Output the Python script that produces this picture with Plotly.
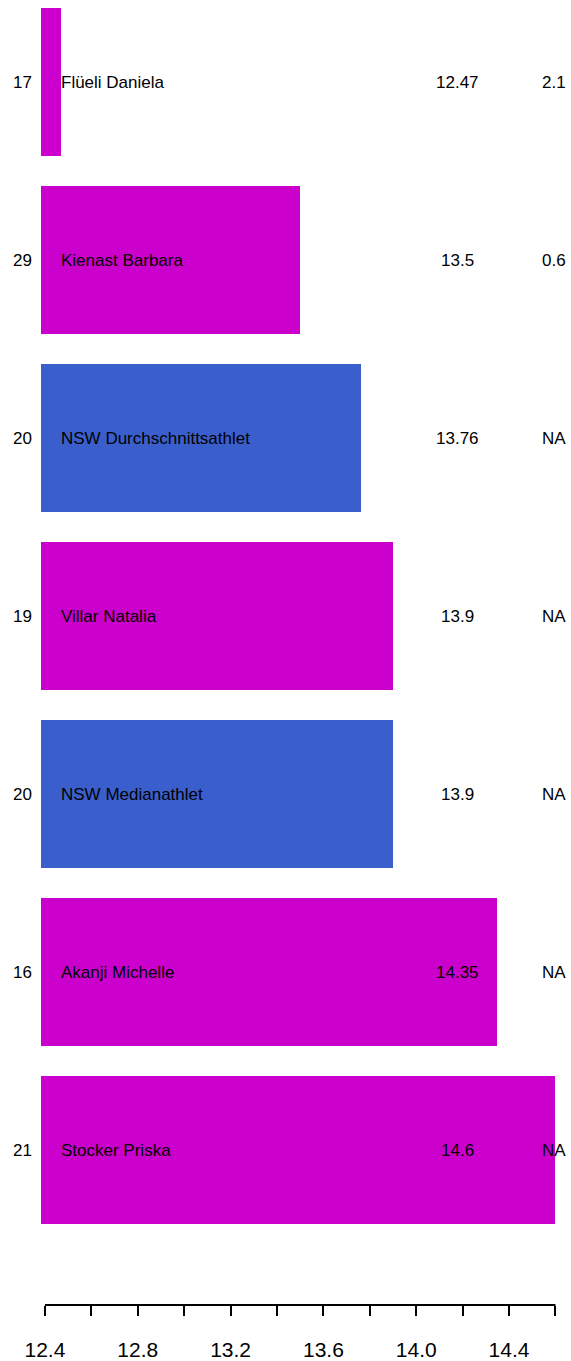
import plotly.graph_objects as go

# Data (bottom to top)
names = ["Stocker Priska", "Akanji Michelle", "NSW Medianathlet", "Villar Natalia",
         "NSW Durchschnittsathlet", "Kienast Barbara", "Flüeli Daniela"]
values = [14.6, 14.35, 13.9, 13.9, 13.76, 13.5, 12.47]
ages = ["21", "16", "20", "19", "20", "29", "17"]
extra = ["NA", "NA", "NA", "NA", "NA", "0.6", "2.1"]
is_nsw = [False, False, True, False, True, False, False]
x_ticks = [12.4, 12.6, 12.8, 13.0, 13.2, 13.4, 13.6, 13.8, 14.0, 14.2, 14.4, 14.6]
x_ticktext = ["12.4", "", "12.8", "", "13.2", "", "13.6", "", "14.0", "", "14.4", ""]

MAGENTA = "#CC00CC"
BLUE = "#3A5FCD"
FONT = "Liberation Sans, Arial, sans-serif"

W, H = 571, 1361
ypos = list(range(len(names)))
colors = [BLUE if n else MAGENTA for n in is_nsw]

fig = go.Figure()
fig.add_trace(go.Bar(
    x=values, y=ypos, orientation="h", width=0.8315,
    marker=dict(color=colors, line=dict(width=0)),
    hoverinfo="skip", showlegend=False,
))

x_min_data = min(values)
x_max_data = max(values)
value_col_x = 14.176
for i, (n, v, e) in enumerate(zip(names, values, extra)):
    fig.add_annotation(x=x_min_data, y=i, text=n, showarrow=False, xanchor="left",
                       xshift=-2, yanchor="middle",
                       font=dict(size=17, color="black", family=FONT))
    fig.add_annotation(x=value_col_x, y=i, text=str(v), showarrow=False, xanchor="center",
                       yanchor="middle", font=dict(size=17, color="black", family=FONT))
    fig.add_annotation(x=x_max_data, y=i, text=e, showarrow=False, xanchor="center",
                       xshift=-1, yanchor="middle",
                       font=dict(size=17, color="black", family=FONT))

axis_pos = (H - 1305) / H
fig.add_shape(type="line", xref="x", yref="paper", x0=x_ticks[0], x1=x_ticks[-1],
              y0=axis_pos, y1=axis_pos, line=dict(color="black", width=2))

fig.update_layout(
    width=W, height=H,
    margin=dict(l=41, r=0, t=0, b=0),
    plot_bgcolor="white", paper_bgcolor="white",
    font=dict(family=FONT, color="black"),
    bargap=0,
    xaxis=dict(range=[12.383, 14.667], domain=[0, 1], anchor="free", position=axis_pos,
               tickvals=x_ticks, ticktext=x_ticktext, ticks="outside", ticklen=10,
               tickwidth=2, tickcolor="black", showgrid=False, zeroline=False,
               showline=False, tickfont=dict(size=21, color="black", family=FONT),
               ticklabelstandoff=16),
    yaxis=dict(range=[-0.5618, 6.4607], domain=[(H - 1250) / H, 1],
               tickvals=ypos, ticktext=ages, ticks="", showgrid=False, zeroline=False,
               showline=False, tickfont=dict(size=17, color="black", family=FONT),
               ticklabelstandoff=8),
)

fig.write_html("out.html", config={"displayModeBar": False},
               post_script="document.body.style.margin='0';document.body.style.overflow='hidden';")
